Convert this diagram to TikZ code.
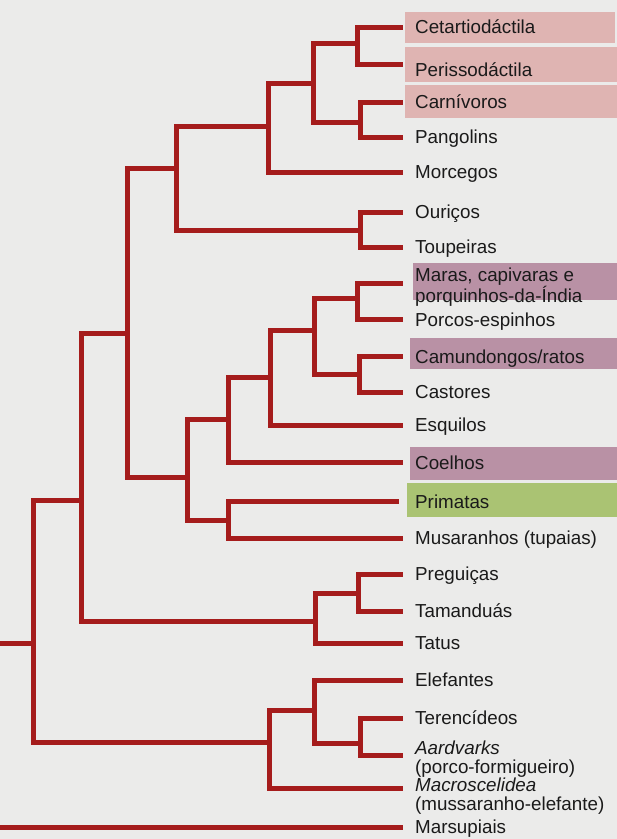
\documentclass[tikz,border=0pt]{standalone}
\usepackage{fontspec}
\setmainfont{Liberation Sans}
\definecolor{paper}{HTML}{EBEBEA}
\definecolor{treered}{HTML}{A51C1C}
\definecolor{pinkfill}{HTML}{DFB4B2}
\definecolor{mauvefill}{HTML}{B991A5}
\definecolor{greenfill}{HTML}{AAC373}
\definecolor{ink}{HTML}{1A1A1A}
\tikzset{
  branch/.style={draw=treered, line width=5pt, line join=miter, line cap=butt},
  taxon/.style={anchor=base west, inner sep=0pt, text=ink,
    font=\fontsize{18.8}{22}\selectfont},
  pinkband/.style={fill=pinkfill},
  mauveband/.style={fill=mauvefill},
  greenband/.style={fill=greenfill},
}
\newcommand{\twolines}[3]{\vtop{\baselineskip=#1pt\hbox{#2}\hbox{#3}}}
\begin{document}
\begin{tikzpicture}[x=1pt,y=-1pt]
  % page
  \fill[paper] (0,0) rectangle (617,839);
  \useasboundingbox (0,0) rectangle (617,839);

  % highlighted groups
  \fill[pinkband]  (405,12)  rectangle (615,43);
  \fill[pinkband]  (405,47)  rectangle (617,82);
  \fill[pinkband]  (405,85)  rectangle (617,118);
  \fill[mauveband] (413,263) rectangle (617,300);
  \fill[mauveband] (410,338) rectangle (617,369);
  \fill[mauveband] (410,447) rectangle (617,480);
  \fill[greenband] (407,483) rectangle (617,517);

  % branch tips
  \coordinate (tCet) at (403,27);
  \coordinate (tPer) at (403,64);
  \coordinate (tCar) at (403,102);
  \coordinate (tPan) at (403,137);
  \coordinate (tMor) at (403,172);
  \coordinate (tOur) at (403,212);
  \coordinate (tTou) at (403,247);
  \coordinate (tMar) at (403,283);
  \coordinate (tPes) at (403,319);
  \coordinate (tCam) at (403,356);
  \coordinate (tCas) at (403,392);
  \coordinate (tEsq) at (403,425);
  \coordinate (tCoe) at (403,462);
  \coordinate (tPri) at (399,501);
  \coordinate (tMus) at (403,538);
  \coordinate (tPre) at (403,574);
  \coordinate (tTam) at (403,611);
  \coordinate (tTat) at (403,643);
  \coordinate (tEle) at (403,680);
  \coordinate (tTer) at (403,718);
  \coordinate (tAar) at (403,755);
  \coordinate (tMac) at (403,788);
  \coordinate (tMsp) at (403,827);

  % internal nodes (x of the split, y where the parent branch joins)
  \coordinate (nCP)    at (357,43);
  \coordinate (nCaPa)  at (360,122);
  \coordinate (nFer)   at (313,83);
  \coordinate (nLaur)  at (268,126);
  \coordinate (nOT)    at (360,230);
  \coordinate (nLasia) at (176,168);
  \coordinate (nMP)    at (357,298);
  \coordinate (nCC)    at (359,374);
  \coordinate (nRodA)  at (314,330);
  \coordinate (nRodB)  at (270,377);
  \coordinate (nGli)   at (228,419);
  \coordinate (nPM)    at (228,520);
  \coordinate (nEua)   at (187,477);
  \coordinate (nBor)   at (127,333);
  \coordinate (nPT)    at (358,593);
  \coordinate (nXen)   at (315,621);
  \coordinate (nAtl)   at (81,500);
  \coordinate (nTA)    at (360,743);
  \coordinate (nEleTA) at (314,710);
  \coordinate (nAfro)  at (269,742);
  \coordinate (nPlac)  at (33,643);
  \coordinate (root)   at (-4,735);

  % tree
  \draw[branch] (nCP) |- (tCet) (nCP) |- (tPer);
  \draw[branch] (nCaPa) |- (tCar) (nCaPa) |- (tPan);
  \draw[branch] (nFer) |- (nCP) (nFer) |- (nCaPa);
  \draw[branch] (nLaur) |- (nFer) (nLaur) |- (tMor);
  \draw[branch] (nOT) |- (tOur) (nOT) |- (tTou);
  \draw[branch] (nLasia) |- (nLaur) (nLasia) |- (nOT);
  \draw[branch] (nMP) |- (tMar) (nMP) |- (tPes);
  \draw[branch] (nCC) |- (tCam) (nCC) |- (tCas);
  \draw[branch] (nRodA) |- (nMP) (nRodA) |- (nCC);
  \draw[branch] (nRodB) |- (nRodA) (nRodB) |- (tEsq);
  \draw[branch] (nGli) |- (nRodB) (nGli) |- (tCoe);
  \draw[branch] (nPM) |- (tPri) (nPM) |- (tMus);
  \draw[branch] (nEua) |- (nGli) (nEua) |- (nPM);
  \draw[branch] (nBor) |- (nLasia) (nBor) |- (nEua);
  \draw[branch] (nPT) |- (tPre) (nPT) |- (tTam);
  \draw[branch] (nXen) |- (nPT) (nXen) |- (tTat);
  \draw[branch] (nAtl) |- (nBor) (nAtl) |- (nXen);
  \draw[branch] (nTA) |- (tTer) (nTA) |- (tAar);
  \draw[branch] (nEleTA) |- (tEle) (nEleTA) |- (nTA);
  \draw[branch] (nAfro) |- (nEleTA) (nAfro) |- (tMac);
  \draw[branch] (nPlac) |- (nAtl) (nPlac) |- (nAfro);
  \draw[branch] (root) |- (nPlac) (root) |- (tMsp);

  % taxon names
  \node[taxon] (lCet) at (415,33.7) {Cetartiodáctila};
  \node[taxon] (lPer) at (415,76.7) {Perissodáctila};
  \node[taxon] (lCar) at (415,108.7) {Carnívoros};
  \node[taxon] (lPan) at (415,143.7) {Pangolins};
  \node[taxon] (lMor) at (415,178.7) {Morcegos};
  \node[taxon] (lOur) at (415,218.7) {Ouriços};
  \node[taxon] (lTou) at (415,253.7) {Toupeiras};
  \node[taxon] (lMar) at (415,281.5) {\twolines{17}{Maras, capivaras e}{porquinhos-da-Índia}};
  \node[taxon] (lPes) at (415,326.7) {Porcos-espinhos};
  \node[taxon] (lCam) at (415,363.2) {Camundongos/ratos};
  \node[taxon] (lCas) at (415,398.7) {Castores};
  \node[taxon] (lEsq) at (415,431.7) {Esquilos};
  \node[taxon] (lCoe) at (415,469.7) {Coelhos};
  \node[taxon] (lPri) at (415,508.7) {Primatas};
  \node[taxon] (lMus) at (415,544.7) {Musaranhos (tupaias)};
  \node[taxon] (lPre) at (415,580.7) {Preguiças};
  \node[taxon] (lTam) at (415,617.7) {Tamanduás};
  \node[taxon] (lTat) at (415,649.7) {Tatus};
  \node[taxon] (lEle) at (415,686.7) {Elefantes};
  \node[taxon] (lTer) at (415,724.7) {Terencídeos};
  \node[taxon] (lAar) at (415,754.7) {\twolines{19}{\itshape Aardvarks}{(porco-formigueiro)}};
  \node[taxon] (lMac) at (415,791.7) {\twolines{19}{\itshape Macroscelidea}{(mussaranho-elefante)}};
  \node[taxon] (lMsp) at (415,833.7) {Marsupiais};
\end{tikzpicture}
\end{document}
